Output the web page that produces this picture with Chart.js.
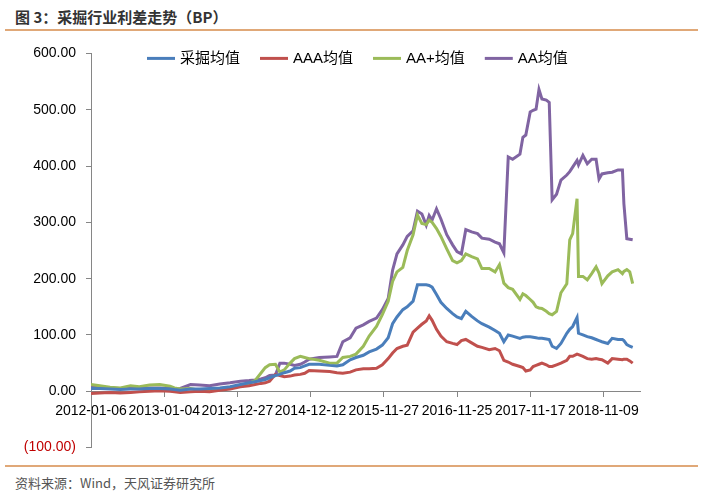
<!DOCTYPE html>
<html>
<head>
<meta charset="utf-8">
<script src="https://cdn.jsdelivr.net/npm/chart.js@4.4.1/dist/chart.umd.min.js"></script>
<style>
  body { margin: 0; background: #fff; }
  #page { position: relative; width: 708px; height: 500px; overflow: hidden; }
  #title { position: absolute; left: 15px; top: 6px; font: bold 15px 'Noto Sans CJK SC', sans-serif; color: #333; }
  .rule { position: absolute; left: 5px; width: 693px; height: 2px; background: #E0A878; }
  #source { position: absolute; left: 15px; top: 473px; font: 13px 'Noto Sans CJK SC', sans-serif; color: #555; }
  #wrap { position: absolute; left: 0; top: 35px; width: 708px; height: 431px; }
</style>
</head>
<body>
<div id="page">
  <div id="title">图 3：采掘行业利差走势（BP）</div>
  <div class="rule" style="top:29px"></div>
  <div id="wrap"><canvas id="spreadChart" width="708" height="431"></canvas></div>
  <div class="rule" style="top:465px"></div>
  <div id="source">资料来源：Wind，天风证券研究所</div>
</div>
<script>
// weekly index of each sample (week 0 = 2012-01-06)
const weeks = [0, 6, 13, 20, 27, 33, 40, 47, 54, 57, 61, 68, 74, 81, 88, 95, 102, 108, 112, 116,
  119, 122, 126, 129, 132, 136, 139, 143, 146, 149, 156, 163, 168, 172, 177, 181, 186, 190, 195, 199,
  203, 206, 209, 213, 216, 220, 223, 226, 229, 231, 233, 236, 239, 243, 247, 250, 253, 256, 260, 264,
  267, 272, 276, 279, 282, 285, 288, 293, 295, 297, 300, 302, 304, 306, 308, 311, 313, 315, 318, 321,
  325, 327, 329, 332, 333, 336, 339, 342, 345, 347, 349, 353, 356, 360, 363, 364, 366, 368, 370];

const miningAvg = [5, 5, 4, 3, 4, 4, 5, 5, 4, 3, 2, 4, 4, 5, 6, 8, 12, 15, 17, 19,
  21, 24, 28, 30, 33, 36, 41, 42, 45, 48, 48, 46, 45, 47, 56, 60, 64, 70, 75, 82,
  95, 120, 132, 145, 150, 160, 189, 189, 189, 188, 185, 172, 158, 147, 138, 132, 129, 142, 133, 125,
  120, 114, 108, 103, 88, 100, 98, 94, 96, 97, 97, 96, 95, 94, 94, 93, 92, 80, 76, 85,
  103, 110, 115, 131, 103, 100, 97, 95, 92, 90, 88, 85, 94, 92, 92, 90, 83, 80, 78];

const aaaAvg = [-4, -3, -2, -3, -2, -1, 0, 1, 0, -1, -2, -1, 0, -1, 2, 4, 8, 10, 12, 14,
  15, 18, 30, 28, 26, 27, 29, 30, 32, 37, 36, 35, 33, 32, 34, 38, 40, 40, 41, 47,
  58, 68, 76, 80, 82, 105, 112, 119, 125, 134, 126, 110, 98, 88, 85, 83, 90, 92, 86, 80,
  78, 74, 76, 72, 55, 52, 48, 44, 42, 36, 38, 44, 46, 48, 50, 47, 44, 44, 47, 50,
  55, 62, 62, 66, 65, 62, 58, 57, 58, 57, 56, 50, 58, 57, 56, 57, 57, 54, 50];

const aaPlusAvg = [12, 10, 7, 6, 10, 8, 11, 12, 9, 6, 4, 5, 2, 1, 3, 6, 10, 14, 19, 32,
  42, 47, 48, 34, 38, 50, 58, 62, 60, 58, 55, 50, 50, 60, 62, 66, 80, 98, 115, 136,
  160, 195, 212, 220, 250, 278, 313, 298, 296, 304, 300, 289, 275, 253, 232, 228, 232, 244, 239, 235,
  218, 218, 212, 225, 192, 184, 181, 163, 173, 170, 163, 158, 150, 148, 147, 142, 138, 136, 142, 175,
  191, 269, 280, 342, 204, 204, 198, 209, 221, 210, 191, 205, 212, 216, 209, 213, 216, 212, 191];

const aaAvg = [8, 7, 6, 5, 6, 5, 6, 6, 5, 4, 5, 12, 11, 10, 13, 15, 18, 19, 20, 22,
  24, 28, 29, 50, 50, 48, 46, 48, 52, 57, 60, 61, 62, 88, 95, 112, 118, 124, 130, 145,
  165, 215, 244, 260, 275, 285, 320, 315, 295, 312, 304, 324, 306, 278, 260, 248, 244, 287, 283, 280,
  272, 270, 265, 262, 246, 416, 412, 421, 451, 455, 496, 499, 501, 536, 519, 517, 513, 340, 350, 375,
  384, 390, 398, 410, 402, 419, 404, 412, 412, 377, 386, 388, 389, 393, 393, 333, 271, 270, 269];

const seriesNames = ['采掘均值', 'AAA均值', 'AA+均值', 'AA均值'];
const seriesColors = ['#4A7EBB', '#C0504D', '#9BBB59', '#8064A2'];

const dateLabels = ['2012-01-06', '2013-01-04', '2013-12-27', '2014-12-12',
  '2015-11-27', '2016-11-25', '2017-11-17', '2018-11-09'];
const labelEvery = 50; // weeks between axis labels
const lastWeek = 375;

const yTicks = [-100, 0, 100, 200, 300, 400, 500, 600];

const FONT = "'Liberation Sans', 'Noto Sans CJK SC', sans-serif";

function toPoints(vals) {
  return vals.map((v, i) => ({ x: weeks[i], y: v }));
}

// legend drawn over the top of the plot like the Excel original
const overlayLegend = {
  id: 'overlayLegend',
  afterDraw(chart) {
    const ctx = chart.ctx;
    const area = chart.chartArea;
    let x = area.left + 56;
    const y = area.top + 5;
    ctx.save();
    ctx.font = '15px ' + FONT;
    ctx.textBaseline = 'middle';
    chart.data.datasets.forEach(ds => {
      ctx.strokeStyle = ds.borderColor;
      ctx.lineWidth = 3;
      ctx.beginPath();
      ctx.moveTo(x, y);
      ctx.lineTo(x + 28, y);
      ctx.stroke();
      x += 33;
      ctx.fillStyle = '#000';
      ctx.fillText(ds.label, x, y);
      x += ctx.measureText(ds.label).width + 20;
    });
    ctx.restore();
  }
};

const allSeries = [miningAvg, aaaAvg, aaPlusAvg, aaAvg];

new Chart(document.getElementById('spreadChart'), {
  type: 'line',
  data: {
    datasets: allSeries.map((vals, i) => ({
      label: seriesNames[i],
      data: toPoints(vals),
      borderColor: seriesColors[i],
      backgroundColor: seriesColors[i],
      borderWidth: 3,
      pointRadius: 0,
      tension: 0,
      fill: false
    }))
  },
  options: {
    responsive: false,
    animation: false,
    layout: { padding: { left: 0, right: 68, top: 15, bottom: 15 } },
    plugins: { legend: { display: false }, tooltip: { enabled: false } },
    scales: {
      x: {
        type: 'linear',
        position: { y: 0 },
        min: 0,
        max: lastWeek,
        afterBuildTicks: scale => {
          scale.ticks = dateLabels.map((_, i) => ({ value: i * labelEvery }));
        },
        grid: { display: true, drawOnChartArea: false, drawTicks: true, tickLength: 5, color: '#868686' },
        border: { color: '#868686', width: 1 },
        ticks: {
          autoSkip: false,
          maxRotation: 0,
          padding: 6,
          color: '#000',
          font: { family: FONT, size: 14 },
          callback: v => dateLabels[Math.round(v / labelEvery)]
        }
      },
      y: {
        min: -100,
        max: 600,
        afterFit: scale => { scale.width = 91; },
        afterBuildTicks: scale => {
          scale.ticks = yTicks.map(v => ({ value: v }));
        },
        grid: { display: true, drawOnChartArea: false, drawTicks: true, tickLength: 5, color: '#868686' },
        border: { color: '#868686', width: 1 },
        ticks: {
          padding: 10,
          font: { family: FONT, size: 14 },
          color: c => (c.tick && c.tick.value < 0) ? '#C00000' : '#000',
          callback: v => v < 0 ? '(' + Math.abs(v).toFixed(2) + ')' : v.toFixed(2)
        }
      }
    }
  },
  plugins: [overlayLegend]
});
</script>
</body>
</html>
